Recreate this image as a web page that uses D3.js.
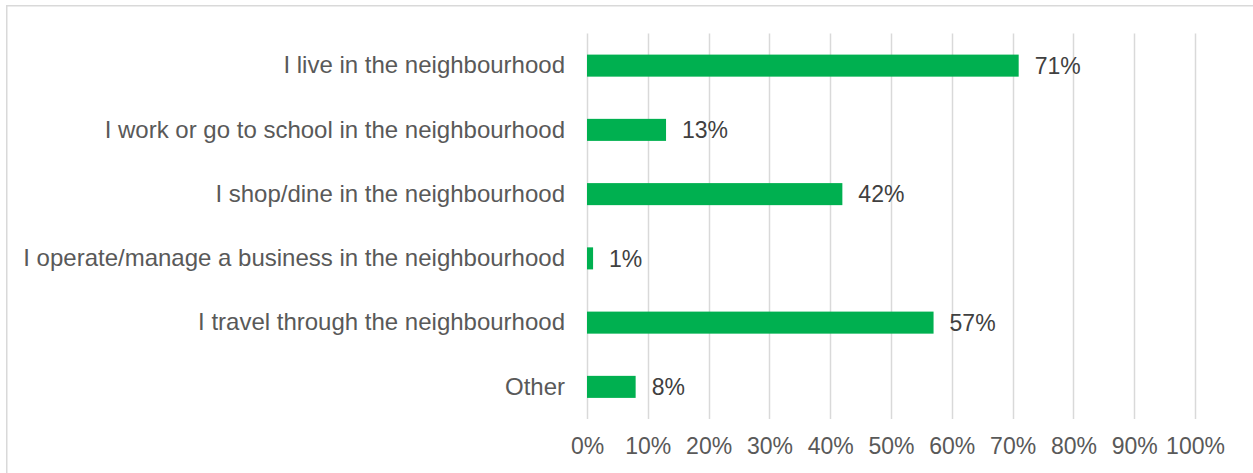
<!DOCTYPE html>
<html>
<head>
<meta charset="utf-8">
<script src="https://cdn.jsdelivr.net/npm/d3@7"></script>
<style>
  html, body { margin: 0; padding: 0; background: #ffffff; }
  svg { display: block; }
  text { font-family: "Liberation Sans", Arial, sans-serif; }
</style>
</head>
<body>
<svg id="chart" width="1253" height="473"></svg>
<script>
// Reasons for being in the neighbourhood (share of respondents, %)
const categories = [
  "I live in the neighbourhood",
  "I work or go to school in the neighbourhood",
  "I shop/dine in the neighbourhood",
  "I operate/manage a business in the neighbourhood",
  "I travel through the neighbourhood",
  "Other"
];
const values = [71, 13, 42, 1, 57, 8];
const tickValues = [0, 10, 20, 30, 40, 50, 60, 70, 80, 90, 100];

const svg = d3.select("#chart");
const W = 1253, H = 473;

// chart frame (open on the right/bottom edges of the canvas)
svg.append("rect")
  .attr("x", 6.75).attr("y", 5.75)
  .attr("width", W).attr("height", H)
  .attr("fill", "none")
  .attr("stroke", "#d9d9d9")
  .attr("stroke-width", 1.5);

const x = d3.scaleLinear().domain([0, 100]).range([587, 1195]);
const y = d3.scaleBand().domain(categories).range([33.5, 419])
  .paddingInner(0.657).paddingOuter(0.3285);

// vertical gridlines
svg.append("g")
  .selectAll("line")
  .data(tickValues)
  .join("line")
  .attr("x1", d => Math.round(x(d)) + 0.5)
  .attr("x2", d => Math.round(x(d)) + 0.5)
  .attr("y1", 33.5).attr("y2", 419)
  .attr("stroke", "#d9d9d9")
  .attr("stroke-width", 1.5);

// x axis tick labels
const xAxis = d3.axisBottom(x)
  .tickValues(tickValues)
  .tickFormat(d => d + "%")
  .tickSize(0)
  .tickPadding(0);
const gx = svg.append("g").attr("transform", "translate(0,438)").call(xAxis);
gx.select(".domain").remove();
gx.selectAll("text")
  .attr("fill", "#595959")
  .attr("font-size", "23px")
  .attr("font-family", "Liberation Sans, Arial, sans-serif");

// category labels
const yAxis = d3.axisLeft(y).tickSize(0).tickPadding(0);
const gy = svg.append("g").attr("transform", "translate(565,0)").call(yAxis);
gy.select(".domain").remove();
gy.selectAll("text")
  .attr("fill", "#595959")
  .attr("font-size", "24px")
  .attr("font-family", "Liberation Sans, Arial, sans-serif");

// bars
svg.append("g")
  .selectAll("rect")
  .data(values)
  .join("rect")
  .attr("x", x(0))
  .attr("y", (d, i) => y(categories[i]))
  .attr("width", d => x(d) - x(0))
  .attr("height", y.bandwidth())
  .attr("fill", "#00b050");

// value labels
svg.append("g")
  .selectAll("text")
  .data(values)
  .join("text")
  .attr("x", d => x(d) + 16)
  .attr("y", (d, i) => y(categories[i]) + y.bandwidth() / 2)
  .attr("dy", "0.36em")
  .attr("fill", "#404040")
  .attr("font-size", "23px")
  .text(d => d + "%");
</script>
</body>
</html>
